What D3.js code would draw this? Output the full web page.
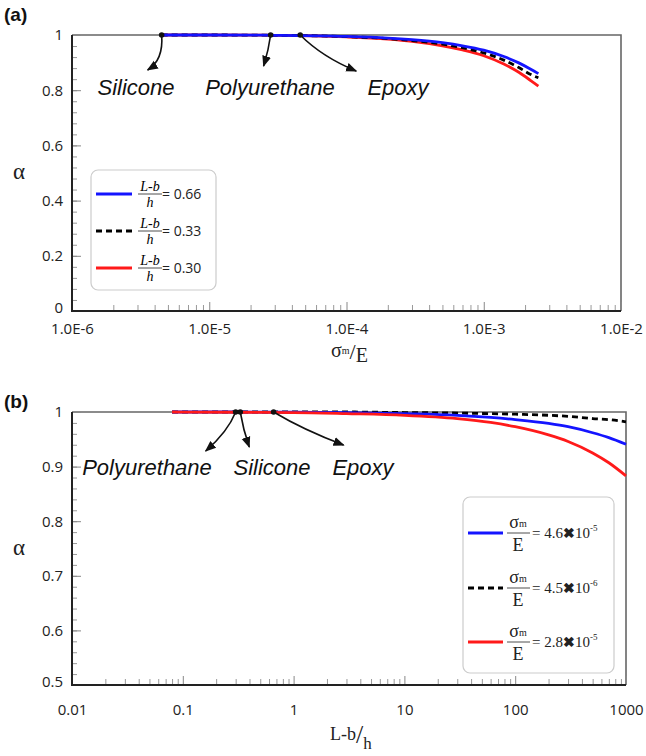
<!DOCTYPE html>
<html>
<head>
<meta charset="utf-8">
<script src="https://cdn.jsdelivr.net/npm/d3@7"></script>
<style>
  html, body { margin: 0; padding: 0; background: #fff; }
  svg { display: block; }
</style>
</head>
<body>
<svg id="chart" width="646" height="756"></svg>
<script>
// ---------- Panel (a): alpha versus sigma_m / E ----------
const aStress = [4.5e-6, 1e-5, 3e-5, 1e-4, 2e-4, 3e-4, 5e-4, 7e-4, 1e-3, 1.4e-3, 1.8e-3, 2.2e-3, 2.5e-3];
const aAlpha066 = [1, 1, 0.999, 0.995, 0.989, 0.983, 0.972, 0.961, 0.945, 0.922, 0.899, 0.876, 0.860];
const aAlpha033 = [1, 1, 0.999, 0.994, 0.987, 0.980, 0.967, 0.954, 0.935, 0.909, 0.882, 0.857, 0.845];
const aAlpha030 = [1, 1, 0.999, 0.993, 0.985, 0.977, 0.961, 0.946, 0.925, 0.895, 0.865, 0.835, 0.815];
const aLegendValues = ["0.66", "0.33", "0.30"];
const aXTicks = [1e-6, 1e-5, 1e-4, 1e-3, 1e-2];
const aXTickLabels = ["1.0E-6", "1.0E-5", "1.0E-4", "1.0E-3", "1.0E-2"];
const aYTicks = [0, 0.2, 0.4, 0.6, 0.8, 1];
const aYTickLabels = ["0", "0.2", "0.4", "0.6", "0.8", "1"];
const aMaterials = ["Silicone", "Polyurethane", "Epoxy"];
const aMaterialStress = [4.5e-6, 2.8e-5, 4.6e-5];

// ---------- Panel (b): alpha versus (L-b)/h ----------
const bRatio = [0.08, 0.3, 1, 3, 10, 30, 60, 100, 200, 300, 500, 700, 1000];
const bAlpha46e5 = [1, 1, 0.9995, 0.999, 0.997, 0.994, 0.990, 0.986, 0.979, 0.973, 0.962, 0.953, 0.941];
const bAlpha45e6 = [1, 1, 1, 1, 0.999, 0.998, 0.997, 0.996, 0.994, 0.992, 0.988, 0.986, 0.982];
const bAlpha28e5 = [1, 0.9995, 0.999, 0.997, 0.994, 0.988, 0.981, 0.973, 0.958, 0.946, 0.925, 0.907, 0.883];
const bLegendMantissa = ["4.6", "4.5", "2.8"];
const bLegendExponent = ["-5", "-6", "-5"];
const bXTicks = [0.01, 0.1, 1, 10, 100, 1000];
const bXTickLabels = ["0.01", "0.1", "1", "10", "100", "1000"];
const bYTicks = [0.5, 0.6, 0.7, 0.8, 0.9, 1];
const bYTickLabels = ["0.5", "0.6", "0.7", "0.8", "0.9", "1"];
const bMaterials = ["Polyurethane", "Silicone", "Epoxy"];
const bMaterialRatio = [0.30, 0.33, 0.66];

const BLUE = "#1414ff", RED = "#ff1a1a", BLACK = "#000";
const svg = d3.select("#chart");
const SANS = "'Liberation Sans', Arial, sans-serif";
const TICKFONT = "'Open Sans', 'Liberation Sans', sans-serif";
const SERIF = "'Liberation Serif', 'Times New Roman', serif";

// arrowhead marker
svg.append("defs").append("marker")
  .attr("id", "arrow").attr("viewBox", "0 0 10 10")
  .attr("refX", 9).attr("refY", 5)
  .attr("markerWidth", 7).attr("markerHeight", 7)
  .attr("orient", "auto-start-reverse")
  .append("path").attr("d", "M0,1 L10,5 L0,9 Z").attr("fill", "#111");

function drawPanel(cfg) {
  const g = svg.append("g");
  const x = d3.scaleLog().domain(cfg.xDomain).range([cfg.left, cfg.right]);
  const y = d3.scaleLinear().domain(cfg.yDomain).range([cfg.bottom, cfg.top]);

  // frame: top and right borders
  g.append("path")
    .attr("d", `M${cfg.left},${cfg.top} H${cfg.right} V${cfg.bottom}`)
    .attr("fill", "none").attr("stroke", "#666").attr("stroke-width", 1.6);

  // minor x ticks (log 2..9) pointing up
  const [x0, x1] = cfg.xDomain;
  const minorX = [];
  for (let e = Math.round(Math.log10(x0)); e < Math.round(Math.log10(x1)); e++) {
    for (let k = 2; k <= 9; k++) minorX.push(k * Math.pow(10, e));
  }
  g.append("g").attr("transform", `translate(0,${cfg.bottom})`)
    .call(d3.axisBottom(x).tickValues(minorX).tickSize(-6).tickFormat(""))
    .call(s => s.select(".domain").remove())
    .call(s => s.selectAll("line").attr("stroke", "#999").attr("stroke-width", 1));

  // major x ticks
  const xAxis = g.append("g").attr("transform", `translate(0,${cfg.bottom})`)
    .call(d3.axisBottom(x).tickValues(cfg.xTicks).tickSize(-9).tickPadding(cfg.xPad)
      .tickFormat((d, i) => cfg.xTickLabels[i]));
  xAxis.select(".domain").remove();
  xAxis.selectAll("line").attr("stroke", "#888").attr("stroke-width", 1);
  xAxis.selectAll("text").attr("font-family", TICKFONT).attr("font-size", 15).attr("fill", "#222");

  // minor y ticks
  const yStep = (cfg.yTicks[1] - cfg.yTicks[0]) / 5;
  const minorY = d3.range(cfg.yDomain[0], cfg.yDomain[1] + 1e-9, yStep);
  g.append("g").attr("transform", `translate(${cfg.left},0)`)
    .call(d3.axisLeft(y).tickValues(minorY).tickSize(-5).tickFormat(""))
    .call(s => s.select(".domain").remove())
    .call(s => s.selectAll("line").attr("stroke", "#999"));

  const yAxis = g.append("g").attr("transform", `translate(${cfg.left},0)`)
    .call(d3.axisLeft(y).tickValues(cfg.yTicks).tickSize(-9).tickPadding(9)
      .tickFormat((d, i) => cfg.yTickLabels[i]));
  yAxis.select(".domain").remove();
  yAxis.selectAll("line").attr("stroke", "#888");
  yAxis.selectAll("text").attr("font-family", TICKFONT).attr("font-size", 15).attr("fill", "#222");
  // lowest label sits slightly above the corner
  yAxis.selectAll(".tick").filter((d, i) => i === 0).select("text").attr("dy", "0.1em");

  // left and bottom axis lines
  g.append("path")
    .attr("d", `M${cfg.left},${cfg.top} V${cfg.bottom} H${cfg.right}`)
    .attr("fill", "none").attr("stroke", "#222").attr("stroke-width", 2);

  // curves
  const line = d3.line().curve(d3.curveMonotoneX);
  cfg.series.forEach(s => {
    g.append("path")
      .attr("d", line(cfg.xs.map((v, i) => [x(v), y(s.values[i])])))
      .attr("fill", "none").attr("stroke", s.color).attr("stroke-width", 2.8)
      .attr("stroke-dasharray", s.dash || null);
  });

  // material annotations
  cfg.notes.forEach(n => {
    const px = x(n.at), py = y(1);
    g.append("path")
      .attr("d", `M${px},${py} Q${px + n.cx},${py + n.cy} ${px + n.dx},${py + n.dy}`)
      .attr("fill", "none").attr("stroke", "#111").attr("stroke-width", 1.6)
      .attr("marker-end", "url(#arrow)");
    g.append("circle").attr("cx", px).attr("cy", py).attr("r", 2.8).attr("fill", "#111");
    g.append("text").attr("x", n.tx).attr("y", n.ty).text(n.label)
      .attr("font-family", SANS).attr("font-style", "italic").attr("font-size", 22)
      .attr("text-anchor", "middle").attr("fill", "#111");
  });

  // y title
  g.append("text").attr("x", 19).attr("y", (cfg.top + cfg.bottom) / 2 + 6)
    .attr("text-anchor", "middle").attr("font-family", SERIF).attr("font-size", 23)
    .attr("fill", "#222").text("α");

  // panel tag
  g.append("text").attr("x", 4).attr("y", cfg.tagY).text(cfg.tag)
    .attr("font-family", SANS).attr("font-weight", "bold").attr("font-size", 19).attr("fill", "#111");

  return { g, x, y };
}

// ---------- Panel (a) ----------
drawPanel({
  left: 72, right: 621, top: 35, bottom: 311,
  xDomain: [1e-6, 1e-2], yDomain: [0, 1],
  xTicks: aXTicks, xTickLabels: aXTickLabels, xPad: 12,
  yTicks: aYTicks, yTickLabels: aYTickLabels,
  xs: aStress,
  series: [
    { values: aAlpha030, color: RED },
    { values: aAlpha033, color: BLACK, dash: "6,4" },
    { values: aAlpha066, color: BLUE }
  ],
  notes: [
    { label: aMaterials[0], at: aMaterialStress[0], cx: 2, cy: 25, dx: -14, dy: 35, tx: 136, ty: 95 },
    { label: aMaterials[1], at: aMaterialStress[1], cx: -2, cy: 15, dx: -7, dy: 31, tx: 270, ty: 95 },
    { label: aMaterials[2], at: aMaterialStress[2], cx: 22, cy: 22, dx: 56, dy: 36, tx: 398, ty: 95 }
  ],
  tag: "(a)", tagY: 21
});

// legend (a)
(function () {
  const lg = svg.append("g");
  lg.append("rect").attr("x", 91).attr("y", 170).attr("width", 125).attr("height", 120)
    .attr("rx", 7).attr("fill", "#fff").attr("stroke", "#ccc").attr("stroke-width", 1.2);
  const colors = [BLUE, BLACK, RED];
  const ys = [194, 231, 268];
  aLegendValues.forEach((v, i) => {
    const yy = ys[i];
    lg.append("line").attr("x1", 96).attr("x2", 132).attr("y1", yy).attr("y2", yy)
      .attr("stroke", colors[i]).attr("stroke-width", 2.8)
      .attr("stroke-dasharray", i === 1 ? "6,4" : null);
    lg.append("text").attr("x", 150).attr("y", yy - 3).attr("text-anchor", "middle")
      .attr("font-family", SERIF).attr("font-style", "italic").attr("font-size", 14).text("L-b");
    lg.append("line").attr("x1", 138).attr("x2", 162).attr("y1", yy).attr("y2", yy)
      .attr("stroke", "#222").attr("stroke-width", 0.8);
    lg.append("text").attr("x", 150).attr("y", yy + 13).attr("text-anchor", "middle")
      .attr("font-family", SERIF).attr("font-style", "italic").attr("font-size", 14).text("h");
    lg.append("text").attr("x", 162).attr("y", yy + 5)
      .attr("font-family", TICKFONT).attr("font-size", 14).attr("fill", "#222").text("= " + v);
  });
})();

// x title (a): sigma_m / E
(function () {
  const t = svg.append("text").attr("x", 331).attr("y", 357)
    .attr("font-family", SERIF).attr("fill", "#222");
  t.append("tspan").attr("font-size", 20).text("σ");
  t.append("tspan").attr("font-size", 10).attr("dy", -3).text("m");
  t.append("tspan").attr("font-size", 22).attr("dy", 5).text("/");
  t.append("tspan").attr("font-size", 20).attr("dy", 3).text("E");
})();

// ---------- Panel (b) ----------
drawPanel({
  left: 72, right: 626, top: 412, bottom: 685,
  xDomain: [0.01, 1000], yDomain: [0.5, 1],
  xTicks: bXTicks, xTickLabels: bXTickLabels, xPad: 19,
  yTicks: bYTicks, yTickLabels: bYTickLabels,
  xs: bRatio,
  series: [
    { values: bAlpha45e6, color: BLACK, dash: "6,4" },
    { values: bAlpha46e5, color: BLUE },
    { values: bAlpha28e5, color: RED }
  ],
  notes: [
    { label: bMaterials[0], at: bMaterialRatio[0], cx: -8, cy: 20, dx: -30, dy: 39, tx: 147, ty: 475 },
    { label: bMaterials[1], at: bMaterialRatio[1], cx: 3, cy: 18, dx: 9, dy: 35, tx: 272, ty: 475 },
    { label: bMaterials[2], at: bMaterialRatio[2], cx: 30, cy: 18, dx: 70, dy: 33, tx: 363, ty: 475 }
  ],
  tag: "(b)", tagY: 408
});

// legend (b)
(function () {
  const lg = svg.append("g");
  lg.append("rect").attr("x", 463).attr("y", 497).attr("width", 151).attr("height", 176)
    .attr("rx", 7).attr("fill", "#fff").attr("stroke", "#ccc").attr("stroke-width", 1.2);
  const colors = [BLUE, BLACK, RED];
  const ys = [533, 588, 642];
  bLegendMantissa.forEach((m, i) => {
    const yy = ys[i];
    lg.append("line").attr("x1", 468).attr("x2", 503).attr("y1", yy).attr("y2", yy)
      .attr("stroke", colors[i]).attr("stroke-width", 2.8)
      .attr("stroke-dasharray", i === 1 ? "6,4" : null);
    const num = lg.append("text").attr("x", 518).attr("y", yy - 5).attr("text-anchor", "middle")
      .attr("font-family", SERIF).attr("fill", "#222");
    num.append("tspan").attr("font-size", 18).text("σ");
    num.append("tspan").attr("font-size", 10).attr("dy", -1).text("m");
    lg.append("line").attr("x1", 507).attr("x2", 530).attr("y1", yy).attr("y2", yy)
      .attr("stroke", "#222").attr("stroke-width", 0.8);
    lg.append("text").attr("x", 518).attr("y", yy + 18).attr("text-anchor", "middle")
      .attr("font-family", SERIF).attr("font-size", 18).attr("fill", "#222").text("E");
    const eq = lg.append("text").attr("x", 532).attr("y", yy + 5)
      .attr("font-family", SERIF).attr("font-size", 15).attr("fill", "#222");
    eq.append("tspan").text("= " + m);
    eq.append("tspan").attr("font-family", SANS).attr("font-weight", "bold").attr("font-size", 14).text("✖");
    eq.append("tspan").text("10");
    eq.append("tspan").attr("font-size", 9).attr("dy", -7).text(bLegendExponent[i]);
  });
})();

// x title (b): (L-b) / h
(function () {
  const t = svg.append("text").attr("x", 330).attr("y", 740)
    .attr("font-family", SERIF).attr("fill", "#222");
  t.append("tspan").attr("font-size", 18).text("L-b");
  t.append("tspan").attr("font-size", 26).attr("dy", 3).text("/");
  t.append("tspan").attr("font-size", 17).attr("dy", 6).text("h");
})();
</script>
</body>
</html>
